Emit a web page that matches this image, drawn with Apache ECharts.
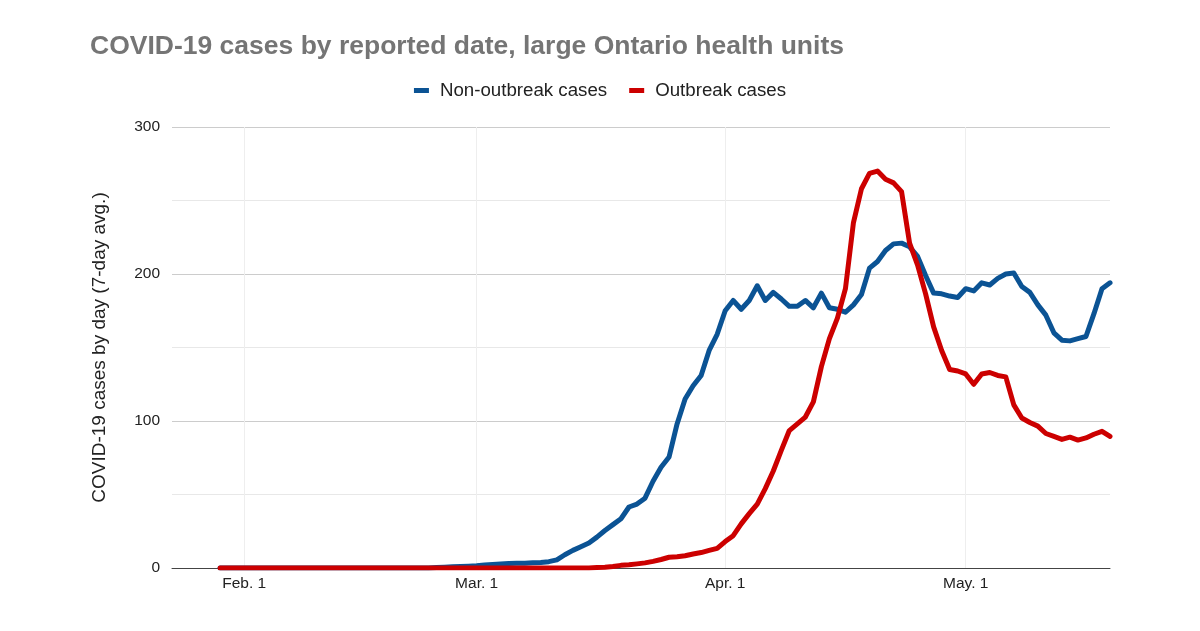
<!DOCTYPE html>
<html>
<head>
<meta charset="utf-8">
<script src="https://cdn.jsdelivr.net/npm/echarts@6/dist/echarts.min.js"></script>
<style>html,body{margin:0;padding:0;background:#fff}#c{width:1200px;height:631px}</style>
</head>
<body>
<div id="c"></div>
<script>
// Axis span (calendar days) and first day with data
var axisStart = '2020-01-23';
var axisEnd = '2020-05-19';
var dataStart = '2020-01-29';

var seriesNames = ['Non-outbreak cases', 'Outbreak cases'];
var yTicks = [0, 100, 200, 300];

// Non-outbreak cases, daily from Jan 29 to May 19
var nonOutbreak = [
  0,0,0, // Jan 29-31
  0,0,0,0,0,0,0,0,0,0,0,0,0,0,0,0,0,0,0,0,0,0,0,0, // Feb 1-24
  0.3,0.5,0.8,1,1.2, // Feb 25-29
  1.5,2,2.4,2.8,3,3.2,3.3,3.5,3.8,4.3,5.5,9,12,14.5,17,21,25.5,29.5,33.5,41.5,43.5,47.5,59,68.5,75.5,98,115,124,131,148,159, // Mar
  175,182,176,182,192,182,187.5,183,178,178,182,177,187,177,176,174,179,186,204,208.5,216,220.5,221,218.5,212,199,187,186.5,185,184, // Apr
  190,188.5,194,192.5,197,200,200.7,191.5,187.5,179,172,160,155,154.5,156,157.5,173,190,194 // May 1-19
];

// Outbreak cases, daily from Jan 29 to May 19
var outbreak = [
  0,0,0, // Jan 29-31
  0,0,0,0,0,0,0,0,0,0,0,0,0,0,0,0,0,0,0,0,0,0,0,0,0,0,0,0,0, // Feb
  0,0,0,0,0,0,0,0,0,0,0,0,0,0,0,0.3,0.5,1,1.8,2.2,2.8,3.5,4.5,5.8,7.3,7.7,8.3,9.5,10.5,12,13.4, // Mar
  18,22,30,37,43.5,54,66,80,93.5,98,102.7,113,137,156,170,190,235,258,268.5,270,264.5,262,256,221,206,186.5,164,148,135,134, // Apr
  132,125,132,133,131,130,111,102,99,96.5,91.5,89.5,87.5,89,87,88.5,91,93,89.5 // May 1-19
];

var monthAbbr = ['Jan.','Feb.','Mar.','Apr.','May.','Jun.'];

function dayList(a, b) {
  var out = [];
  var d = new Date(a + 'T00:00:00Z'), e = new Date(b + 'T00:00:00Z');
  while (d <= e) { out.push(d.toISOString().slice(0,10)); d = new Date(d.getTime() + 86400000); }
  return out;
}
var categories = dayList(axisStart, axisEnd);
var lead = categories.indexOf(dataStart);
function pad(arr) { var o = []; for (var i = 0; i < lead; i++) o.push(null); return o.concat(arr); }
function isMonthStart(idx) { return categories[idx].slice(8,10) === '01'; }

var FONT = 'Liberation Sans, Arial, sans-serif';
var chart = echarts.init(document.getElementById('c'), null, {renderer: 'canvas'});
chart.setOption({
  animation: false,
  backgroundColor: '#ffffff',
  title: {
    text: 'COVID-19 cases by reported date, large Ontario health units',
    left: 85, top: 28,
    textStyle: {fontFamily: FONT, fontWeight: 'bold', fontSize: 26.5, color: '#757575'}
  },
  legend: {
    data: seriesNames,
    top: 76, left: 'center',
    icon: 'rect', itemWidth: 15, itemHeight: 5, itemGap: 22,
    textStyle: {fontFamily: FONT, fontSize: 18.7, color: '#222', padding: [0,0,0,6]}
  },
  grid: {left: 172, right: 90, top: 127, bottom: 63, containLabel: false},
  xAxis: {
    type: 'category', data: categories, boundaryGap: false,
    axisLine: {show: true, lineStyle: {color: '#444', width: 1}},
    axisTick: {show: false},
    axisLabel: {
      interval: function (i) { return isMonthStart(i); },
      formatter: function (v) { var m = +v.slice(5,7); return monthAbbr[m-1] + ' ' + (+v.slice(8,10)); },
      fontFamily: FONT, fontSize: 15.5, color: '#222', margin: 8
    },
    splitLine: {show: true, interval: function (i) { return isMonthStart(i); }, lineStyle: {color: '#eeeeee', width: 1}}
  },
  yAxis: {
    type: 'value', min: yTicks[0], max: yTicks[yTicks.length-1], interval: 100,
    name: 'COVID-19 cases by day (7-day avg.)', nameLocation: 'middle', nameGap: 63,
    nameTextStyle: {fontFamily: FONT, fontSize: 19, color: '#222'},
    axisLine: {show: false}, axisTick: {show: false},
    axisLabel: {fontFamily: FONT, fontSize: 15.5, color: '#222', margin: 12},
    splitLine: {show: true, lineStyle: {color: '#cccccc', width: 1}},
    minorTick: {show: false, splitNumber: 2},
    minorSplitLine: {show: true, lineStyle: {color: '#e8e8e8', width: 1}}
  },
  series: [
    {name: seriesNames[0], type: 'line', data: pad(nonOutbreak), showSymbol: false, symbol: 'none',
     lineStyle: {color: '#0b5394', width: 5, cap: 'round', join: 'round'}, itemStyle: {color: '#0b5394'}},
    {name: seriesNames[1], type: 'line', data: pad(outbreak), showSymbol: false, symbol: 'none',
     lineStyle: {color: '#cc0000', width: 5, cap: 'round', join: 'round'}, itemStyle: {color: '#cc0000'}}
  ]
});
</script>
</body>
</html>
